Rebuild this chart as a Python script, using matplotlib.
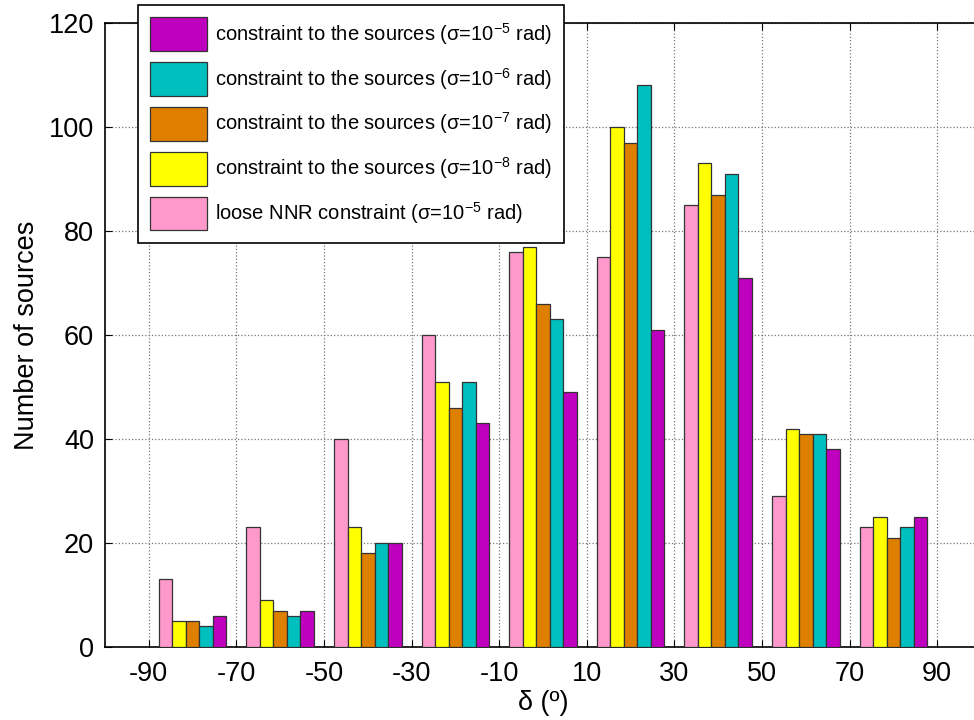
import numpy as np
import matplotlib
matplotlib.use('Agg')
import matplotlib.pyplot as plt

plt.rcParams['font.family'] = ['Liberation Sans', 'DejaVu Sans']
plt.rcParams['axes.unicode_minus'] = False
plt.rcParams['mathtext.default'] = 'regular'

# -------- data --------
centers = [-80, -60, -40, -20, 0, 20, 40, 60, 80]
loose_nnr = [13, 23, 40, 60, 76, 75, 85, 29, 23]
sig_1e8 = [5, 9, 23, 51, 77, 100, 93, 42, 25]
sig_1e7 = [5, 7, 18, 46, 66, 97, 87, 41, 21]
sig_1e6 = [4, 6, 20, 51, 63, 108, 91, 41, 23]
sig_1e5 = [6, 7, 20, 43, 49, 61, 71, 38, 25]
xticks = [-90, -70, -50, -30, -10, 10, 30, 50, 70, 90]

series = [
    (loose_nnr, '#FF99CC', u'loose NNR constraint (\u03c3=10$^{-5}$ rad)'),
    (sig_1e8, '#FFFF00', u'constraint to the sources (\u03c3=10$^{-8}$ rad)'),
    (sig_1e7, '#DF7F00', u'constraint to the sources (\u03c3=10$^{-7}$ rad)'),
    (sig_1e6, '#00BFBF', u'constraint to the sources (\u03c3=10$^{-6}$ rad)'),
    (sig_1e5, '#BF00BF', u'constraint to the sources (\u03c3=10$^{-5}$ rad)'),
]

fig = plt.figure(figsize=(9.74, 7.2), dpi=100)
ax = fig.add_axes([105/974, 1-647/720, (981-105)/974, (647-23)/720])

w = 3.08
x = np.array(centers, dtype=float)
handles = []
for i, (vals, col, lab) in enumerate(series):
    b = ax.bar(x + (i - 2) * w, vals, width=w, color=col, edgecolor='#333333',
               linewidth=0.9, label=lab, zorder=3)
    handles.append(b)

ax.set_xlim(-100, 100)
ax.set_ylim(0, 120)
ax.set_xticks(xticks)
ax.set_yticks(range(0, 121, 20))
ax.tick_params(direction='in', top=True, right=True, labelsize=19.5, length=5, pad=8)
ax.tick_params(axis='x', pad=10)
ax.grid(True, linestyle=':', color='#777777', linewidth=0.9, zorder=0)
ax.set_axisbelow(True)
for s in ax.spines.values():
    s.set_linewidth(1.2)

ax.set_xlabel(u'\u03b4 (\u00ba)', fontsize=19.5, labelpad=2)
ax.set_ylabel('Number of sources', fontsize=19.5, labelpad=6)

# legend order: top entry is sigma=1e-5
order = [4, 3, 2, 1, 0]
leg = ax.legend([handles[k] for k in order], [series[k][2] for k in order],
                loc='upper left', bbox_to_anchor=(138/974, 1-5/720),
                bbox_transform=fig.transFigure, borderaxespad=0,
                fontsize=14.5, handlelength=2.8, handleheight=2.2,
                handletextpad=0.4, labelspacing=0.55, borderpad=0.62,
                fancybox=False, framealpha=1, edgecolor='black')
leg.get_frame().set_linewidth(1.2)

plt.savefig('out.png', dpi=100)
